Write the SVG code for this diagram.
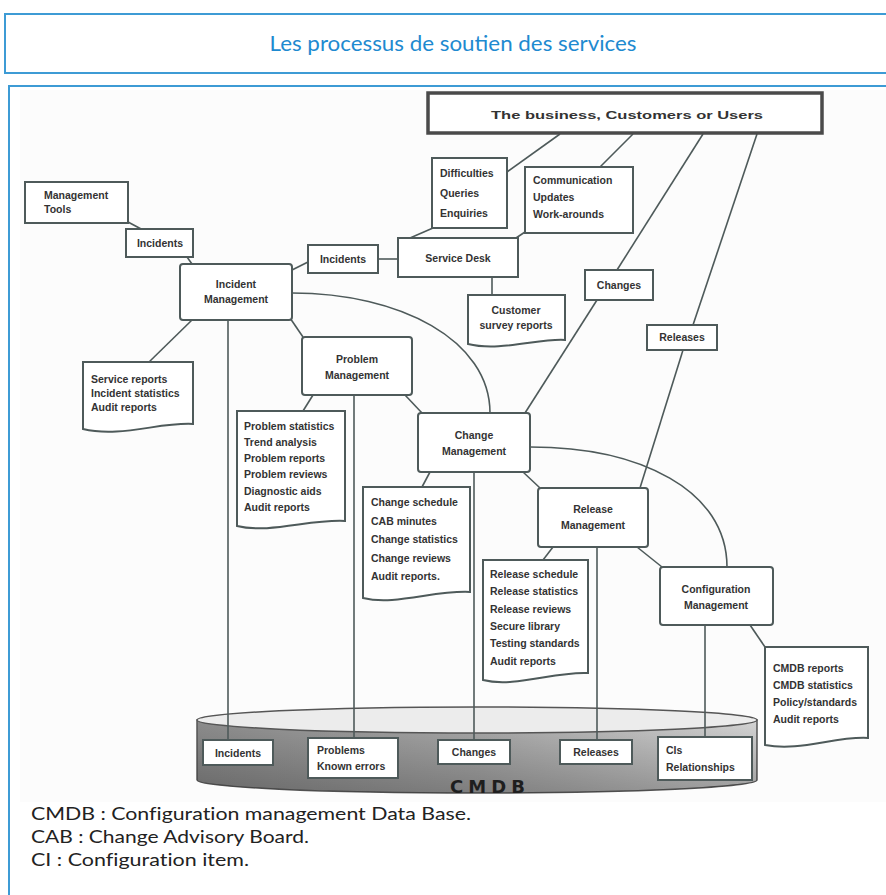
<svg xmlns="http://www.w3.org/2000/svg" width="886" height="895" viewBox="0 0 886 895">
<defs>
<linearGradient id="body" x1="0" y1="0" x2="1" y2="0">
<stop offset="0" stop-color="#8c8c8c"/>
<stop offset="0.5" stop-color="#a8a8a8"/>
<stop offset="1" stop-color="#d4d4d4"/>
</linearGradient>
<linearGradient id="shade" x1="0" y1="0" x2="0" y2="1">
<stop offset="0" stop-color="#000" stop-opacity="0"/>
<stop offset="1" stop-color="#000" stop-opacity="0.25"/>
</linearGradient>
</defs>
<style>
.frame{fill:none;stroke:#3d9bd5;stroke-width:2}
.box{fill:#fff;stroke:#4e5a5a;stroke-width:2}
.ln{fill:none;stroke:#4e5a5a;stroke-width:1.6}
.t{font-family:"Liberation Sans Narrow","Liberation Sans",sans-serif;font-size:10.5px;font-weight:bold;fill:#333}
.c{text-anchor:middle}
.note{font-family:Lato,"Open Sans",sans-serif;font-size:17px;fill:#222;font-variant-ligatures:none}
</style>
<rect x="0" y="0" width="886" height="895" fill="#fff"/>
<rect class="frame" x="5" y="14" width="890" height="59"/>
<text x="453" y="51" font-family="Lato,'Open Sans',sans-serif" font-size="21" fill="#1e8ad0" text-anchor="middle" textLength="367" lengthAdjust="spacingAndGlyphs">Les processus de soutien des services</text>
<rect class="frame" x="9" y="86" width="890" height="820"/>
<rect x="20" y="90" width="866" height="712" fill="#fcfcfc"/>

<g id="connectors">
<path class="ln" d="M128,222 L143,230"/>
<path class="ln" d="M187,257 L192,264"/>
<path class="ln" d="M292,270 L308,262"/>
<path class="ln" d="M378,259 L398,259"/>
<path class="ln" d="M507,172 L560,134"/>
<path class="ln" d="M633,134 L600,167"/>
<path class="ln" d="M433,228 L410,238"/>
<path class="ln" d="M525,232 L516,238"/>
<path class="ln" d="M703,134 L617,270"/>
<path class="ln" d="M757,134 L693,325"/>
<path class="ln" d="M492,277 L492,296"/>
<path class="ln" d="M597,300 L525,413"/>
<path class="ln" d="M683,350 L640,488"/>
<path class="ln" d="M292,293 C400,293 490,340 490,413"/>
<path class="ln" d="M530,447 C640,447 727,490 727,567"/>
<path class="ln" d="M290,318 L303,337"/>
<path class="ln" d="M192,320 L148,363"/>
<path class="ln" d="M313,395 L303,411"/>
<path class="ln" d="M405,395 L422,413"/>
<path class="ln" d="M430,472 L422,487"/>
<path class="ln" d="M523,472 L540,488"/>
<path class="ln" d="M553,547 L543,560"/>
<path class="ln" d="M637,547 L662,567"/>
<path class="ln" d="M750,625 L765,647"/>
</g>

<g id="cmdb">
<path d="M197,720 V780 A280,13 0 0 0 757,780 V720 Z" fill="url(#body)" stroke="#555" stroke-width="1.5"/>
<path d="M197,720 V780 A280,13 0 0 0 757,780 V720 Z" fill="url(#shade)"/>
<ellipse cx="477" cy="720" rx="280" ry="13" fill="#ececec" stroke="#555" stroke-width="1.5"/>
<text x="490" y="793" font-family="'DejaVu Sans',sans-serif" font-weight="bold" font-size="18" fill="#1e1e1e" text-anchor="middle" letter-spacing="5">CMDB</text>
</g>

<g id="verticals">
<path class="ln" d="M228,320 V740"/>
<path class="ln" d="M354,395 V738"/>
<path class="ln" d="M474,472 V740"/>
<path class="ln" d="M597,547 V740"/>
<path class="ln" d="M705,625 V737"/>
</g>

<g id="business">
<rect x="428" y="93" width="394" height="40" fill="#fff" stroke="#4a4a4a" stroke-width="3.5"/>
<text class="t c" x="627" y="119" font-size="15" fill="#222" textLength="272" lengthAdjust="spacingAndGlyphs">The business, Customers or Users</text>
</g>
<g id="difficulties">
<rect class="box" x="432" y="158" width="75" height="70" stroke-width="2.5"/>
<text class="t" x="440" y="177">Difficulties</text>
<text class="t" x="440" y="197">Queries</text>
<text class="t" x="440" y="217">Enquiries</text>
</g>
<g id="communication">
<rect class="box" x="525" y="167" width="108" height="66" stroke-width="2.5"/>
<text class="t" x="533" y="184">Communication</text>
<text class="t" x="533" y="201">Updates</text>
<text class="t" x="533" y="218">Work-arounds</text>
</g>
<g id="mgmt-tools">
<rect class="box" x="25" y="182" width="103" height="41"/>
<text class="t" x="44" y="199">Management</text>
<text class="t" x="44" y="213">Tools</text>
</g>
<g id="incidents-left">
<rect class="box" x="126" y="229" width="67" height="28"/>
<text class="t c" x="160" y="247">Incidents</text>
</g>
<g id="incident-mgmt">
<rect class="box" x="180" y="264" width="112" height="56" rx="3"/>
<text class="t c" x="236" y="288">Incident</text>
<text class="t c" x="236" y="303">Management</text>
</g>
<g id="incidents-mid">
<rect class="box" x="308" y="245" width="70" height="28"/>
<text class="t c" x="343" y="263">Incidents</text>
</g>
<g id="service-desk">
<rect class="box" x="398" y="238" width="120" height="39"/>
<text class="t c" x="458" y="262">Service Desk</text>
</g>
<g id="changes-in">
<rect class="box" x="585" y="270" width="68" height="30"/>
<text class="t c" x="619" y="289">Changes</text>
</g>
<g id="releases-in">
<rect class="box" x="647" y="325" width="70" height="25"/>
<text class="t c" x="682" y="341">Releases</text>
</g>
<g id="customer-survey">
<path class="box" d="M468,295 H565 V340 C540,338 500,352 468,344 Z"/>
<text class="t c" x="516" y="314">Customer</text>
<text class="t c" x="516" y="329">survey reports</text>
</g>
<g id="problem-mgmt">
<rect class="box" x="302" y="337" width="110" height="58" rx="3"/>
<text class="t c" x="357" y="363">Problem</text>
<text class="t c" x="357" y="379">Management</text>
</g>
<g id="service-reports">
<path class="box" d="M83,362 H193 V424 C160,422 120,438 83,429 Z"/>
<text class="t" x="91" y="383">Service reports</text>
<text class="t" x="91" y="397">Incident statistics</text>
<text class="t" x="91" y="411">Audit reports</text>
</g>
<g id="problem-stats">
<path class="box" d="M237,411 H345 V521 C310,519 270,534 237,526 Z"/>
<text class="t" x="244" y="430">Problem statistics</text>
<text class="t" x="244" y="446">Trend analysis</text>
<text class="t" x="244" y="462">Problem reports</text>
<text class="t" x="244" y="478">Problem reviews</text>
<text class="t" x="244" y="495">Diagnostic aids</text>
<text class="t" x="244" y="511">Audit reports</text>
</g>
<g id="change-mgmt">
<rect class="box" x="418" y="413" width="112" height="59" rx="3"/>
<text class="t c" x="474" y="439">Change</text>
<text class="t c" x="474" y="455">Management</text>
</g>
<g id="change-schedule">
<path class="box" d="M363,487 H470 V592 C435,590 395,606 363,598 Z"/>
<text class="t" x="371" y="506">Change schedule</text>
<text class="t" x="371" y="525">CAB minutes</text>
<text class="t" x="371" y="543">Change statistics</text>
<text class="t" x="371" y="562">Change reviews</text>
<text class="t" x="371" y="580">Audit reports.</text>
</g>
<g id="release-mgmt">
<rect class="box" x="538" y="488" width="110" height="59" rx="3"/>
<text class="t c" x="593" y="513">Release</text>
<text class="t c" x="593" y="529">Management</text>
</g>
<g id="release-schedule">
<path class="box" d="M483,560 H588 V673 C555,671 515,688 483,680 Z"/>
<text class="t" x="490" y="578">Release schedule</text>
<text class="t" x="490" y="595">Release statistics</text>
<text class="t" x="490" y="613">Release reviews</text>
<text class="t" x="490" y="630">Secure library</text>
<text class="t" x="490" y="647">Testing standards</text>
<text class="t" x="490" y="665">Audit reports</text>
</g>
<g id="config-mgmt">
<rect class="box" x="660" y="567" width="113" height="58" rx="3"/>
<text class="t c" x="716" y="593">Configuration</text>
<text class="t c" x="716" y="609">Management</text>
</g>
<g id="cmdb-reports">
<path class="box" d="M765,647 H868 V738 C835,736 800,752 765,745 Z"/>
<text class="t" x="773" y="672">CMDB reports</text>
<text class="t" x="773" y="689">CMDB statistics</text>
<text class="t" x="773" y="706">Policy/standards</text>
<text class="t" x="773" y="723">Audit reports</text>
</g>

<g id="db-incidents">
<rect class="box" x="203" y="740" width="70" height="25"/>
<text class="t c" x="238" y="757">Incidents</text>
</g>
<g id="db-problems">
<rect class="box" x="308" y="738" width="90" height="40"/>
<text class="t" x="317" y="754">Problems</text>
<text class="t" x="317" y="770">Known errors</text>
</g>
<g id="db-changes">
<rect class="box" x="438" y="740" width="72" height="24"/>
<text class="t c" x="474" y="756">Changes</text>
</g>
<g id="db-releases">
<rect class="box" x="560" y="740" width="72" height="24"/>
<text class="t c" x="596" y="756">Releases</text>
</g>
<g id="db-cis">
<rect class="box" x="658" y="737" width="94" height="43"/>
<text class="t" x="666" y="754">CIs</text>
<text class="t" x="666" y="771">Relationships</text>
</g>

<g id="notes">
<text class="note" x="31" y="820" textLength="440" lengthAdjust="spacingAndGlyphs">CMDB : Configuration management Data Base.</text>
<text class="note" x="31" y="843" textLength="278" lengthAdjust="spacingAndGlyphs">CAB : Change Advisory Board.</text>
<text class="note" x="31" y="866" textLength="218" lengthAdjust="spacingAndGlyphs">CI : Configuration item.</text>
</g>
</svg>
